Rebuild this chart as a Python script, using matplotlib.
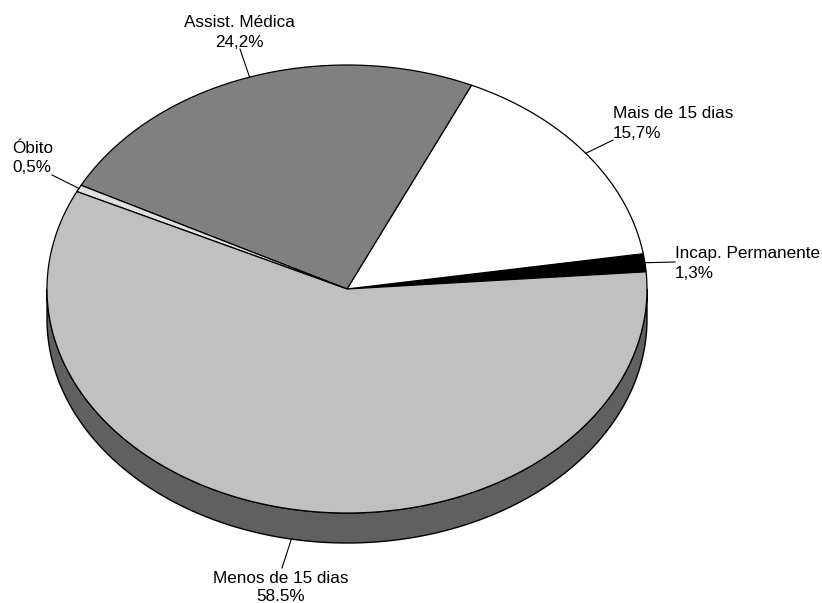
import numpy as np
import matplotlib
matplotlib.use("Agg")
import matplotlib.pyplot as plt
from matplotlib.patches import Polygon

# ---- data ----
labels = ["Incap. Permanente", "Mais de 15 dias", "Assist. Médica", "Óbito", "Menos de 15 dias"]
values = [1.3, 15.7, 24.2, 0.5, 58.5]
pct_labels = ["1,3%", "15,7%", "24,2%", "0,5%", "58.5%"]
colors = ["#000000", "#FFFFFF", "#808080", "#E0E0E0", "#C0C0C0"]

# ---- layout (pixels) ----
W, H = 822, 603
cx, cy = 347, 289
rx, ry = 300, 224
depth = 30
start_angle = 4.4

# label layout: (text x, line1 y, line2 y, ha, leader end x, leader end y)
label_layout = [
    (675, 252, 272, "left", 675, 262),
    (613, 112, 132, "left", 613, 140),
    (239, 21, 41, "center", 240, 49),
    (12, 147, 166, "left", 52, 175),
    (281, 577, 595, "center", 282, 568),
]

plt.rcParams['font.family'] = ['Liberation Sans', 'DejaVu Sans']
fig = plt.figure(figsize=(W / 100, H / 100), dpi=100)
ax = fig.add_axes([0, 0, 1, 1])
ax.set_xlim(0, W)
ax.set_ylim(H, 0)
ax.axis("off")

total = sum(values)
angles = []
a = start_angle
for v in values:
    b = a + v / total * 360.0
    angles.append((a, b))
    a = b


def pt(t, dz=0.0):
    r = np.radians(t)
    return cx + rx * np.cos(r), cy - ry * np.sin(r) + dz


def darker(c, f=0.5):
    rgb = np.array(matplotlib.colors.to_rgb(c))
    return tuple(rgb * f)


# side walls (visible for angles in [180, 360] mod 360)
for (a0, a1), col in zip(angles, colors):
    for k in (0, 360, -360):
        lo = max(a0 + k, 180)
        hi = min(a1 + k, 360)
        if hi > lo:
            ts = np.linspace(lo, hi, 200)
            top = [pt(t) for t in ts]
            bot = [pt(t, depth) for t in ts[::-1]]
            poly = Polygon(top + bot, closed=True, facecolor=darker(col),
                           edgecolor="black", linewidth=1.0, joinstyle="round")
            ax.add_patch(poly)

# top surface
for (a0, a1), col in zip(angles, colors):
    n = max(int((a1 - a0) * 2), 4)
    ts = np.linspace(a0, a1, n)
    pts = [(cx, cy)] + [pt(t) for t in ts]
    poly = Polygon(pts, closed=True, facecolor=col, edgecolor="black",
                   linewidth=0.9, joinstyle="round")
    ax.add_patch(poly)

# labels and leader lines
for (a0, a1), lab, pl, lay in zip(angles, labels, pct_labels, label_layout):
    tx, y1, y2, ha, lx, ly = lay
    mid = (a0 + a1) / 2.0
    m = mid % 360
    dz = depth if 180 < m < 360 else 0
    ex, ey = pt(mid, dz)
    ax.plot([ex, lx], [ey, ly], color="black", linewidth=0.8)
    ax.text(tx, y1 + 6, lab, ha=ha, va="baseline", fontsize=12.3, color="black")
    ax.text(tx, y2 + 6, pl, ha=ha, va="baseline", fontsize=12.3, color="black")

fig.savefig("out.png", dpi=100, facecolor="white")
